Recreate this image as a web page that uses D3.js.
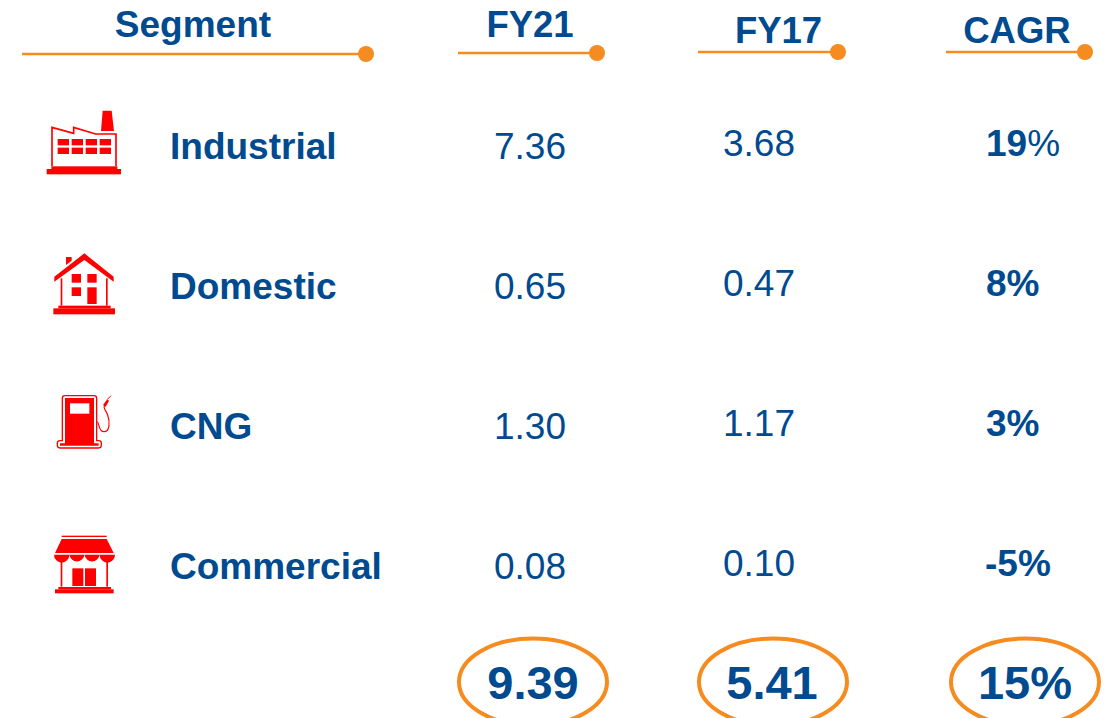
<!DOCTYPE html>
<html><head><meta charset="utf-8">
<script src="https://cdn.jsdelivr.net/npm/d3@7/dist/d3.min.js"></script>
<style>html,body{margin:0;padding:0;background:#fff;overflow:hidden}svg{display:block}text{font-family:"Liberation Sans",Arial,sans-serif;fill:#004A8F}</style>
</head><body><svg id="c" width="1107" height="718"></svg>
<script>
const segments = ["Industrial","Domestic","CNG","Commercial"];
const fy21 = ["7.36","0.65","1.30","0.08"];
const fy17 = ["3.68","0.47","1.17","0.10"];
const cagr = ["19%","8%","3%","-5%"];
const headers = ["Segment","FY21","FY17","CAGR"];
const totals = ["9.39","5.41","15%"];

const NAVY = "#004A8F", ORANGE = "#F68B1F", RED = "#FF0000";
const svg = d3.select("#c");
const row = d3.scalePoint().domain(segments).range([0, 420]);
const FS = 37;

// header rules and titles
const headLayout = [
  {tx:193, ty:37, x1:22,  x2:366, y:54},
  {tx:530, ty:37, x1:458, x2:597, y:53},
  {tx:778.5, ty:43, x1:698, x2:838, y:52},
  {tx:1017,ty:43, x1:946, x2:1085,y:52}
];
headers.forEach((h,i)=>{
  const L = headLayout[i];
  svg.append("text").attr("x",L.tx).attr("y",L.ty).attr("text-anchor","middle")
    .attr("font-size",i===0?FS:36.5).attr("font-weight","bold").text(h);
  svg.append("line").attr("x1",L.x1).attr("x2",L.x2).attr("y1",L.y).attr("y2",L.y)
    .attr("stroke",ORANGE).attr("stroke-width",2.5);
  svg.append("circle").attr("cx",L.x2).attr("cy",L.y).attr("r",8).attr("fill",ORANGE);
});

// table columns
const cols = [
  {vals:segments, x:170, base:159, anchor:"start", bold:()=>true},
  {vals:fy21, x:530, base:159, anchor:"middle", bold:()=>false},
  {vals:fy17, x:759, base:156, anchor:"middle", bold:()=>false}
];
cols.forEach(c=>{
  svg.append("g").selectAll("text").data(c.vals).join("text")
    .attr("x",c.x).attr("y",(d,i)=>c.base+row(segments[i]))
    .attr("text-anchor",c.anchor).attr("font-size",FS)
    .attr("font-weight",d=>c.bold(d)?"bold":"normal").text(d=>d);
});
// CAGR: only first value has a light % sign
svg.append("g").selectAll("text").data(cagr).join("text")
  .attr("x",(d,i)=>i===3?985:986).attr("y",(d,i)=>156+row(segments[i]))
  .attr("font-size",37).attr("font-weight","bold")
  .each(function(d,i){
    const t=d3.select(this);
    if(i===0){
      t.append("tspan").text(d.replace("%",""));
      t.append("tspan").attr("font-weight","normal").text("%");
    } else t.text(d);
  });

// totals
const ovalX = [533,773,1025];
totals.forEach((t,i)=>{
  svg.append("ellipse").attr("cx",ovalX[i]).attr("cy",682).attr("rx",74).attr("ry",43.5)
    .attr("fill","none").attr("stroke",ORANGE).attr("stroke-width",4);
  svg.append("text").attr("x",ovalX[i]-(i===1?1:0)).attr("y",699).attr("text-anchor","middle")
    .attr("font-size",47).attr("font-weight","bold").text(t);
});

// icons, drawn in 3x local units
function icon(top){ return svg.append("g").attr("transform",`translate(30,${top}) scale(${1/3})`); }
function rects(g,list){ list.forEach(r=>g.append("rect").attr("x",r[0]).attr("y",r[1]).attr("width",r[2]).attr("height",r[3]).attr("fill",r[4]||RED)); }
function p(g,d,fill,stroke,sw){ g.append("path").attr("d",d).attr("fill",fill||"none").attr("stroke",stroke||"none").attr("stroke-width",sw||0); }

// factory
let g = icon(95);
rects(g,[[50,222,223,16],[64,214,198,8]]);
p(g,"M66,214 V97 L131,115 V97 L197,117 H258 V214","none",RED,5);
p(g,"M218,47 H245 L252,108 H213 Z",RED);
[132,158].forEach(y=>[83,125,167,209].forEach(x=>rects(g,[[x,y,34,19]])));

// house
g = icon(95);
rects(g,[[70,640,185,18],[85,632,157,8]]);
p(g,"M73,545 L163,475 L251,545 V560 L163,495 L73,560 Z",RED);
p(g,"M108,486 H125 V497 L108,510 Z",RED);
rects(g,[[92,550,5,82],[228,550,5,82],[125,537,28,26],[172,537,28,26],[125,577,28,26],[172,577,28,50]]);

// pump
g = icon(380);
p(g,"M97,182 V55 Q97,47 105,47 H192 Q200,47 200,55 V182 H206 Q214,182 214,190 V196 Q214,204 206,204 H90 Q82,204 82,196 V190 Q82,182 90,182 Z","none",RED,4);
p(g,"M105,54 H192 V190 H206 V197 H90 V190 H105 Z",RED);
rects(g,[[120,70,58,31,"#fff"]]);
p(g,"M202,125 C208,128 205,155 222,155 C240,155 240,125 233,105 C227,88 217,85 226,72","none",RED,3.5);
p(g,"M219,75 L232,58 L237,62 L227,80 Z",RED);
p(g,"M232,58 L243,47","none",RED,3);

// shop
g = icon(380);
rects(g,[[95,467,135,4]]);
p(g,"M95,477 H230 L251,519 H75 Z",RED);
p(g,"M72,524 H255 A23,24 0 0 1 209,524 A23,24 0 0 1 163.5,524 A23,24 0 0 1 118,524 A23,24 0 0 1 72,524 Z",RED);
rects(g,[[92,545,5,75],[229,545,5,75],[127,565,33,53],[165,565,33,53],[85,621,158,7],[75,628,176,12]]);
</script></body></html>
